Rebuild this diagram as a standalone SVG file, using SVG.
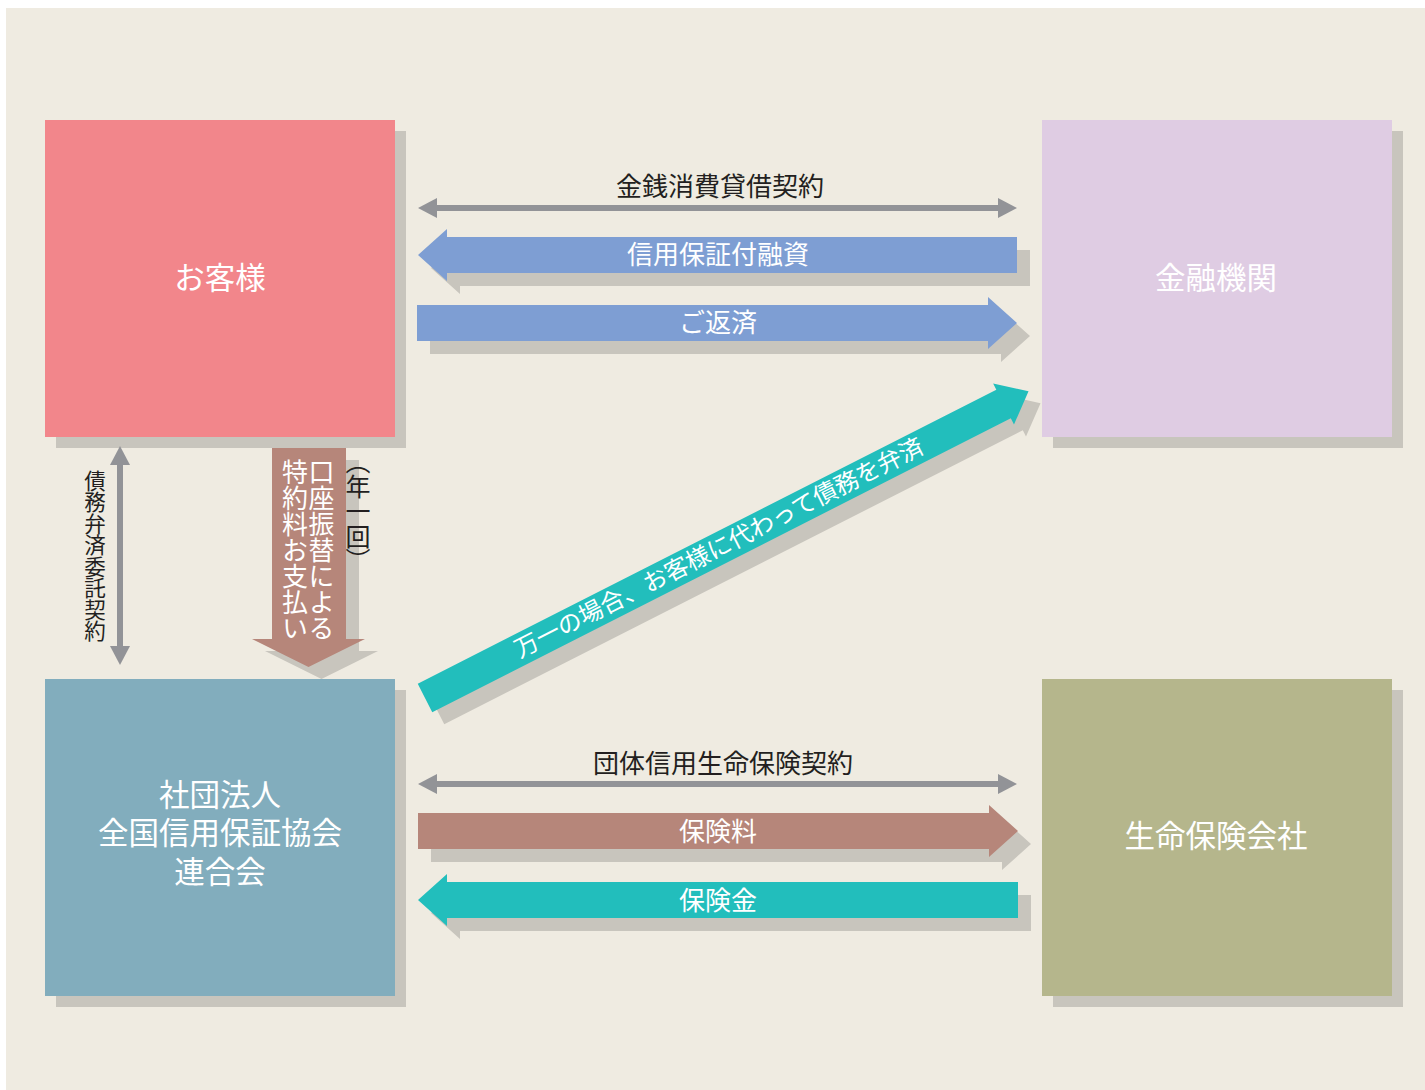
<svg xmlns="http://www.w3.org/2000/svg" width="1425" height="1090" viewBox="0 0 1425 1090">
<style>
text{font-family:"Noto Sans CJK JP","Noto Sans",sans-serif;}
.bg{fill:#efebe1;}
.sh{fill:#c8c5bd;}
.lbl{fill:#231f20;font-size:26px;text-anchor:middle;dominant-baseline:central;}
.wl{fill:#ffffff;font-size:26px;text-anchor:middle;dominant-baseline:central;}
.box{fill:#ffffff;font-size:30.5px;text-anchor:middle;dominant-baseline:central;}
.vt{writing-mode:vertical-rl;text-anchor:middle;}
.dbl{stroke:#929397;stroke-width:6;fill:none;}
.blue{fill:#7e9ed3;}
.brown{fill:#b6867a;}
.teal{fill:#22bebc;}
</style>
<defs>
<marker id="ah" viewBox="0 0 19 20" refX="0" refY="10" markerWidth="19" markerHeight="20" markerUnits="userSpaceOnUse" orient="auto-start-reverse">
<path d="M0,0 L19,10 L0,20 Z" fill="#929397"/>
</marker>
<polygon id="diag" points="0,-16 649,-16 649,-23 677,0 649,23 649,16 0,16"/>
</defs>
<rect class="bg" x="6" y="8" width="1419" height="1082"/>

<g id="node-customer">
<rect class="sh" x="56" y="131" width="350" height="317"/>
<rect x="45" y="120" width="350" height="317" fill="#f2868b"/>
<text class="box" x="220" y="276">お客様</text>
</g>
<g id="node-bank">
<rect class="sh" x="1053" y="131" width="350" height="317"/>
<rect x="1042" y="120" width="350" height="317" fill="#dfcce3"/>
<text class="box" x="1216" y="276">金融機関</text>
</g>
<g id="node-federation">
<rect class="sh" x="56" y="690" width="350" height="317"/>
<rect x="45" y="679" width="350" height="317" fill="#82adbd"/>
<text class="box" x="220" y="793"><tspan x="220" y="793">社団法人</tspan><tspan x="220" y="831">全国信用保証協会</tspan><tspan x="220" y="870">連合会</tspan></text>
</g>
<g id="node-insurer">
<rect class="sh" x="1053" y="690" width="350" height="317"/>
<rect x="1042" y="679" width="350" height="317" fill="#b5b68c"/>
<text class="box" x="1216" y="834">生命保険会社</text>
</g>

<g id="connectors">
<!-- loan contract -->
<line class="dbl" x1="437" y1="208" x2="998" y2="208" marker-start="url(#ah)" marker-end="url(#ah)"/>
<text class="lbl" x="720" y="184">金銭消費貸借契約</text>
<!-- guaranteed loan -->
<polygon class="sh" transform="translate(13,13)" points="418,255 447,229 447,237 1017,237 1017,273 447,273 447,281"/>
<polygon class="blue" points="418,255 447,229 447,237 1017,237 1017,273 447,273 447,281"/>
<text class="wl" x="718" y="252">信用保証付融資</text>
<!-- repayment -->
<polygon class="sh" transform="translate(13,13)" points="417,305 988,305 988,297 1017,323 988,349 988,341 417,341"/>
<polygon class="blue" points="417,305 988,305 988,297 1017,323 988,349 988,341 417,341"/>
<text class="wl" x="718" y="320">ご返済</text>
<!-- subrogation diagonal -->
<use href="#diag" class="sh" transform="translate(437,710) rotate(-26.94)"/>
<use href="#diag" class="teal" transform="translate(425,698) rotate(-26.94)"/>
<text class="wl" style="font-size:24px" transform="translate(425,698) rotate(-26.94)" x="330" y="-3">万一の場合、お客様に代わって債務を弁済</text>
<!-- entrustment contract vertical -->
<line class="dbl" x1="120" y1="465" x2="120" y2="646" marker-start="url(#ah)" marker-end="url(#ah)"/>
<text class="vt" x="95" y="556" fill="#231f20" style="font-size:21.5px">債務弁済委託契約</text>
<!-- fee payment down arrow -->
<polygon class="sh" transform="translate(13,12)" points="272,448 346,448 346,639 365,639 308.5,667 252,639 272,639"/>
<polygon class="brown" points="272,448 346,448 346,639 365,639 308.5,667 252,639 272,639"/>
<text class="vt" x="321.5" y="550" fill="#ffffff" style="font-size:26px">口座振替による</text>
<text class="vt" x="295" y="550" fill="#ffffff" style="font-size:26px">特約料お支払い</text>
<text class="vt" x="358" y="511" fill="#231f20" style="font-size:25px;font-feature-settings:'vpal'">（年一回）</text>
<!-- group credit life insurance contract -->
<line class="dbl" x1="437" y1="784" x2="998" y2="784" marker-start="url(#ah)" marker-end="url(#ah)"/>
<text class="lbl" x="723" y="761">団体信用生命保険契約</text>
<!-- premium -->
<polygon class="sh" transform="translate(13,13)" points="418,813 989,813 989,805 1018,831 989,857 989,849 418,849"/>
<polygon class="brown" points="418,813 989,813 989,805 1018,831 989,857 989,849 418,849"/>
<text class="wl" x="718" y="829">保険料</text>
<!-- insurance payout -->
<polygon class="sh" transform="translate(13,13)" points="418,900 447,874 447,882 1018,882 1018,918 447,918 447,926"/>
<polygon class="teal" points="418,900 447,874 447,882 1018,882 1018,918 447,918 447,926"/>
<text class="wl" x="718" y="898">保険金</text>
</g>
</svg>
